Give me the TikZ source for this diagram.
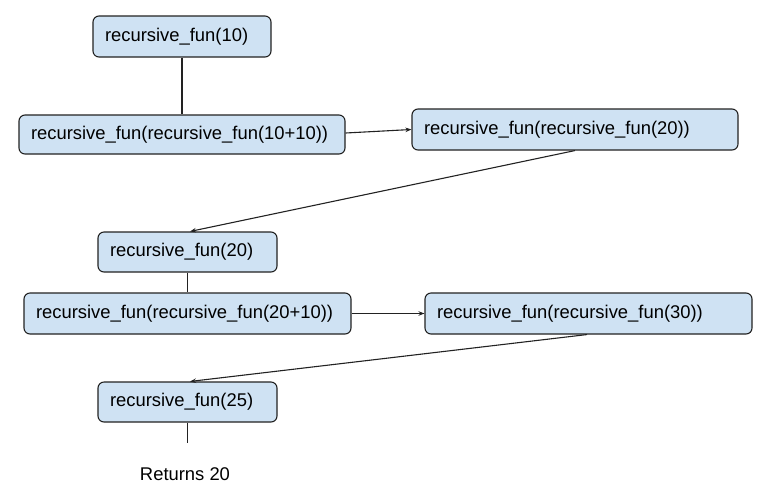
\documentclass[tikz,border=0pt]{standalone}
\usepackage{fontspec}
\setmainfont{Liberation Sans}
\usetikzlibrary{arrows.meta}
\definecolor{boxfill}{HTML}{CFE2F3}
\definecolor{linec}{HTML}{222222}
\begin{document}
\begin{tikzpicture}[x=1pt,y=-1pt,
  callbox/.style={draw=linec, fill=boxfill, line width=1.1pt, rounded corners=6pt,
    inner xsep=12pt, inner ysep=0pt, align=left, font=\fontsize{18.4}{22}\selectfont},
  conn/.style={draw=linec, line width=1.1pt},
  arr/.style={conn, -{Stealth[length=6pt,width=4.5pt]}}]
\useasboundingbox (0,0) rectangle (762,499);
\node[callbox, minimum width=178pt, minimum height=41pt, text width=154pt] (b1) at (182,36.5) {recursive\_fun(10)};
\node[callbox, minimum width=326pt, minimum height=39pt, text width=302pt] (b2) at (182,134.5) {recursive\_fun(recursive\_fun(10+10))};
\node[callbox, minimum width=326pt, minimum height=41pt, text width=302pt] (b3) at (575,129.5) {recursive\_fun(recursive\_fun(20))};
\node[callbox, minimum width=179pt, minimum height=40pt, text width=155pt] (b4) at (187.5,252) {recursive\_fun(20)};
\node[callbox, minimum width=327pt, minimum height=41pt, text width=303pt] (b5) at (187.5,313.5) {recursive\_fun(recursive\_fun(20+10))};
\node[callbox, minimum width=327pt, minimum height=41pt, text width=303pt] (b6) at (588.5,313.5) {recursive\_fun(recursive\_fun(30))};
\node[callbox, minimum width=179pt, minimum height=40pt, text width=155pt] (b7) at (187.5,402) {recursive\_fun(25)};
\node[font=\fontsize{18.4}{22}\selectfont] (ret) at (185,474) {Returns 20};
\coordinate (endpt) at (187.5,443);
\draw[conn] (b1.south) -- (b2.north);
\draw[arr] ([yshift=1.5pt]b2.east) -- (b3.west);
\draw[arr] (b3.south) -- ([xshift=2.5pt]b4.north);
\draw[conn] (b4.south) -- (b5.north);
\draw[arr] (b5.east) -- (b6.west);
\draw[arr] ([xshift=-1.5pt]b6.south) -- ([xshift=2.5pt]b7.north);
\draw[conn] (b7.south) -- (endpt);
\end{tikzpicture}
\end{document}
